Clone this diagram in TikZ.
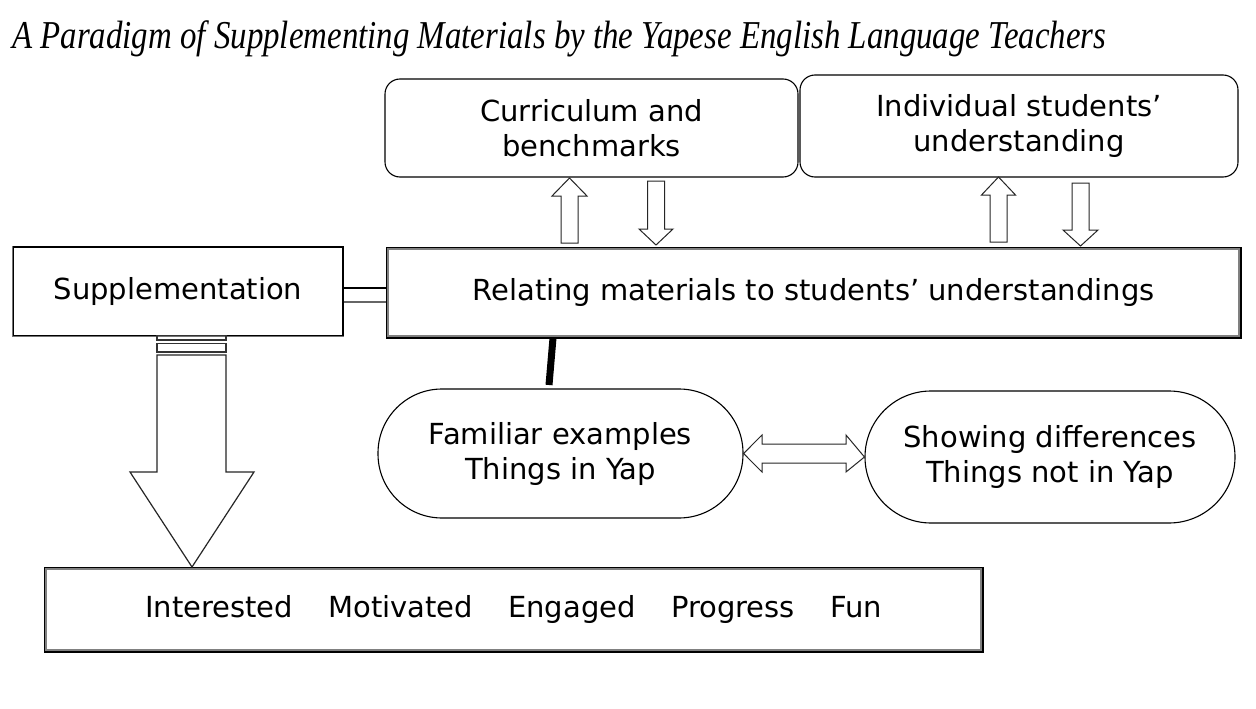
\documentclass[tikz,border=0pt]{standalone}
\usepackage{fontspec}
\setmainfont{DejaVu Sans}
\newfontfamily\titlefont{Liberation Serif}
\usetikzlibrary{calc}
\newlength\tpart
\newcommand\blockarrow[6]{\draw[arr] (#1,#2) -- (#1+#6,#3) -- (#1+#5,#3) -- (#1+#5,#4) -- (#1-#5,#4) -- (#1-#5,#3) -- (#1-#6,#3) -- cycle;}
\begin{document}
\settowidth\tpart{\titlefont\fontsize{39.5}{44}\selectfont\itshape A Paradigm of Supplementing Materials by the Yapese E}%
\pgfmathsetmacro\tsx{748/\tpart}%
\begin{tikzpicture}[x=1pt,y=-1pt,
  txt/.style={font=\fontsize{29}{35}\selectfont, align=center, inner sep=0pt},
  rbox/.style={txt, draw=black, line width=1.1pt, rounded corners=15pt},
  sbox/.style={txt, draw=black, line width=1.1pt},
  dbox/.style={txt, draw=black, line width=3pt},
  stad/.style={txt, draw=black, line width=1.1pt},
  arr/.style={draw=black!85, line width=1pt, fill=white, line join=miter}]
\useasboundingbox (0,0) rectangle (1256,709);
\fill[white] (0,0) rectangle (1256,709);
% title
\node[anchor=base west, inner sep=0pt] (title) at (12,49) {\scalebox{\tsx}[1]{\titlefont\fontsize{39.5}{44}\selectfont\itshape A Paradigm of Supplementing Materials by the Yapese English Language Teachers}};
% nodes
\node[rbox, minimum width=413pt, minimum height=98pt] (cur) at (591.5,128) {Curriculum and\\benchmarks};
\node[rbox, minimum width=438pt, minimum height=102pt] (ind) at (1019,126) {Individual students’\\understanding};
\node[dbox, minimum width=853pt, minimum height=89pt] (rel) at (813.5,292.5) {Relating materials to students’ understandings};
\draw[black!50, line width=1.5pt] ($(rel.north west)+(2.6,2.6)$) rectangle ($(rel.south east)+(-2.6,-2.6)$);
\node[sbox, minimum width=330pt, minimum height=89pt] (sup) at (178,291.5) {Supplementation};
\draw[black!55, line width=1.3pt] (sup.north west) -- (sup.south west) -- (sup.south east);
\node[dbox, minimum width=937pt, minimum height=83pt] (res) at (513.5,609.5) {Interested\hspace{26pt} Motivated\hspace{26pt} Engaged\hspace{26pt} Progress\hspace{26pt} Fun};
\draw[black!50, line width=1.5pt] ($(res.north west)+(2.6,2.6)$) rectangle ($(res.south east)+(-2.6,-2.6)$);
\node[stad, minimum width=365pt, minimum height=129pt, rounded corners=64pt] (fam) at (560.5,453.5) {Familiar examples\\Things in Yap};
\node[stad, minimum width=370pt, minimum height=132pt, rounded corners=66pt] (show) at (1050,457) {Showing differences\\Things not in Yap};
% double line from supplementation to relating
\draw[black, line width=1.3pt] ($(sup.east)+(0,-3.5)$) -- ($(rel.west)+(0,-4.5)$);
\draw[black!60, line width=1.3pt] ($(sup.east)+(0,10.5)$) -- ($(rel.west)+(0,9.5)$);
% thick line
\draw[black, line width=7pt] (553,338) -- (549,385);
% block arrows up/down
\blockarrow{569.5}{178}{196}{243}{8.5}{17.5}
\blockarrow{656}{245}{229}{181}{8.5}{17}
\blockarrow{998.5}{177}{195}{242}{8.5}{17}
\blockarrow{1080.5}{246}{230}{183}{8.5}{17.5}
% horizontal double arrow
\draw[arr] (fam.east) -- (762,435) -- (762,444) -- (846,444) -- (846,435) -- (show.west) -- (846,472) -- (846,463) -- (762,463) -- (762,472) -- cycle;
% big arrow
\draw[black!80, line width=1.3pt] (157,335.5) rectangle (226,340);
\draw[black!80, line width=1.3pt] (157,343.5) rectangle (226,352);
\coordinate (tip) at (192,567);
\draw[black!85, line width=1.2pt, fill=white] (tip) -- (130,472) -- (157,472) -- (157,355) -- (226,355) -- (226,472) -- (254,472) -- cycle;
\end{tikzpicture}
\end{document}
